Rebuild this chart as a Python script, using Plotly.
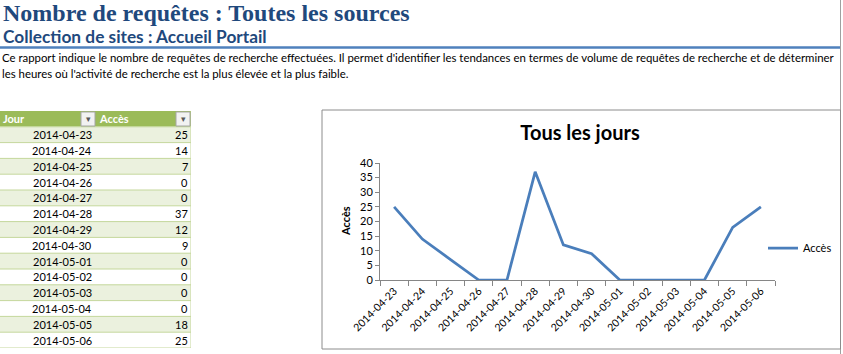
import plotly.graph_objects as go

# ---------------- data ----------------
days = ["2014-04-23", "2014-04-24", "2014-04-25", "2014-04-26", "2014-04-27",
        "2014-04-28", "2014-04-29", "2014-04-30", "2014-05-01", "2014-05-02",
        "2014-05-03", "2014-05-04", "2014-05-05", "2014-05-06"]
acces = [25, 14, 7, 0, 0, 37, 12, 9, 0, 0, 0, 0, 18, 25]
col_headers = ["Jour", "Accès"]
y_ticks = [0, 5, 10, 15, 20, 25, 30, 35, 40]

title_text = "Nombre de requêtes : Toutes les sources"
subtitle_text = "Collection de sites : Accueil Portail"
para_lines = [
    "Ce rapport indique le nombre de requêtes de recherche effectuées. Il permet d'identifier les tendances en termes de volume de requêtes de recherche et de déterminer",
    "les heures où l'activité de recherche est la plus élevée et la plus faible.",
]
chart_title = "Tous les jours"
series_name = "Accès"

# ---------------- layout helpers ----------------
W, H = 843, 354
def px(x):
    return x / W
def py(y):
    return 1 - y / H

SANS = "Lato, 'Open Sans', sans-serif"
SERIF = "'Liberation Serif', 'DejaVu Serif', serif"
DARKBLUE = "#1F497D"
LINEBLUE = "#4A7EBB"

fig = go.Figure()

# chart line
fig.add_trace(go.Scatter(
    x=days, y=acces, mode="lines", name=series_name,
    line=dict(color=LINEBLUE, width=2.75),
    xaxis="x", yaxis="y", showlegend=True,
))

shapes = []
annotations = []

# ---------------- table (drawn on its own axes) ----------------
n = len(days)
ROW_TOP, ROW_H = 111.0, 15.8
tbl_bottom = ROW_TOP + ROW_H * (n + 1)
for i in range(-1, n):
    if i == -1:
        fill = "#9BBB59"
    else:
        fill = "#EBF1DE" if i % 2 == 0 else "#FFFFFF"
    shapes.append(dict(type="rect", xref="x2", yref="y2", x0=0, x1=2,
                       y0=i - 0.5, y1=i + 0.5, fillcolor=fill,
                       line=dict(width=0), layer="below"))
for i in range(0, n + 1):
    shapes.append(dict(type="line", xref="x2", yref="y2", x0=0, x1=2,
                       y0=i - 0.5, y1=i - 0.5,
                       line=dict(color="#C4D79B", width=1)))
shapes.append(dict(type="line", xref="x2", yref="y2", x0=2, x1=2,
                   y0=-1.5, y1=n - 0.5, line=dict(color="#C4D79B", width=1)))

for i, (d, v) in enumerate(zip(days, acces)):
    annotations.append(dict(xref="x2", yref="y2", x=1, y=i, text=d,
                            xanchor="right", yanchor="middle", xshift=-2,
                            showarrow=False, font=dict(family=SANS, size=11, color="#000")))
    annotations.append(dict(xref="x2", yref="y2", x=2, y=i, text=str(v),
                            xanchor="right", yanchor="middle", xshift=-1,
                            showarrow=False, font=dict(family=SANS, size=11, color="#000")))
for c, h in enumerate(col_headers):
    annotations.append(dict(xref="x2", yref="y2", x=c, y=-1, text="<b>%s</b>" % h,
                            xanchor="left", yanchor="middle", xshift=1,
                            showarrow=False, font=dict(family=SANS, size=11, color="#FFFFFF")))
for bx in (81, 176):
    shapes.append(dict(type="rect", xref="paper", yref="paper",
                       x0=px(bx), x1=px(bx + 14), y0=py(126), y1=py(112),
                       fillcolor="#F2F2F2", line=dict(color="#A6A6A6", width=1)))
    annotations.append(dict(xref="paper", yref="paper", x=px(bx + 7), y=py(119),
                            text="▾", showarrow=False, xanchor="center", yanchor="middle",
                            font=dict(family="DejaVu Sans", size=9, color="#595959")))

# ---------------- header texts ----------------
annotations.append(dict(xref="paper", yref="paper", x=px(1), y=py(13), text="<b>%s</b>" % title_text,
                        xanchor="left", yanchor="middle", showarrow=False,
                        font=dict(family=SERIF, size=24, color=DARKBLUE)))
annotations.append(dict(xref="paper", yref="paper", x=px(1), y=py(37), text="<b>%s</b>" % subtitle_text,
                        xanchor="left", yanchor="middle", showarrow=False,
                        font=dict(family=SANS, size=17.3, color=DARKBLUE)))
shapes.append(dict(type="line", xref="paper", yref="paper", x0=0, x1=px(841),
                   y0=py(47.5), y1=py(47.5), line=dict(color="#4F81BD", width=2.5)))
for k, line in enumerate(para_lines):
    annotations.append(dict(xref="paper", yref="paper", x=px(0), y=py(58 + 16 * k), text=line,
                            xanchor="left", yanchor="middle", showarrow=False,
                            font=dict(family=SANS, size=11.4, color="#000")))

# right sheet border
shapes.append(dict(type="line", xref="paper", yref="paper", x0=px(840.5), x1=px(840.5),
                   y0=0, y1=1, line=dict(color="#A0A0A0", width=1)))
# chart frame
shapes.append(dict(type="rect", xref="paper", yref="paper", x0=px(322), x1=px(840.5),
                   y0=py(349), y1=py(110), line=dict(color="#8C8C8C", width=1),
                   fillcolor="rgba(0,0,0,0)"))

# y axis title
annotations.append(dict(xref="paper", yref="paper", x=px(345), y=py(221), text="<b>Accès</b>",
                        textangle=-90, xanchor="center", yanchor="middle", showarrow=False,
                        font=dict(family=SANS, size=11, color="#000")))

fig.update_layout(
    width=W, height=H,
    margin=dict(l=0, r=0, t=0, b=0, autoexpand=False),
    paper_bgcolor="#FFFFFF", plot_bgcolor="rgba(0,0,0,0)",
    title=dict(text="<b>%s</b>" % chart_title, x=px(580), y=py(133),
               xanchor="center", yanchor="middle",
               font=dict(family=SANS, size=20, color="#000")),
    xaxis=dict(domain=[px(380), px(775)], type="category", anchor="y",
               range=[-0.5, len(days) - 0.5],
               showline=True, linecolor="#868686", linewidth=1,
               ticks="outside", tickson="boundaries", ticklen=5, tickcolor="#868686",
               tickangle=-45, showgrid=False, zeroline=False, automargin=False,
               tickfont=dict(family=SANS, size=10.5, color="#000")),
    yaxis=dict(domain=[py(280), py(163)], range=[0, 40], tickvals=y_ticks, anchor="x",
               showline=True, linecolor="#868686", linewidth=1,
               ticks="outside", ticklen=4, tickcolor="#868686",
               showgrid=False, zeroline=False, automargin=False,
               tickfont=dict(family=SANS, size=11, color="#000")),
    xaxis2=dict(domain=[0, px(191)], range=[0, 2], anchor="y2", visible=False, fixedrange=True),
    yaxis2=dict(domain=[py(tbl_bottom), py(ROW_TOP)], range=[n - 0.5, -1.5], anchor="x2",
                visible=False, fixedrange=True),
    showlegend=True,
    legend=dict(x=px(763), y=py(248), xanchor="left", yanchor="middle",
                bgcolor="rgba(0,0,0,0)", font=dict(family=SANS, size=11, color="#000"),
                itemwidth=30),
    shapes=shapes,
    annotations=annotations,
)

fig.write_html("out.html")
